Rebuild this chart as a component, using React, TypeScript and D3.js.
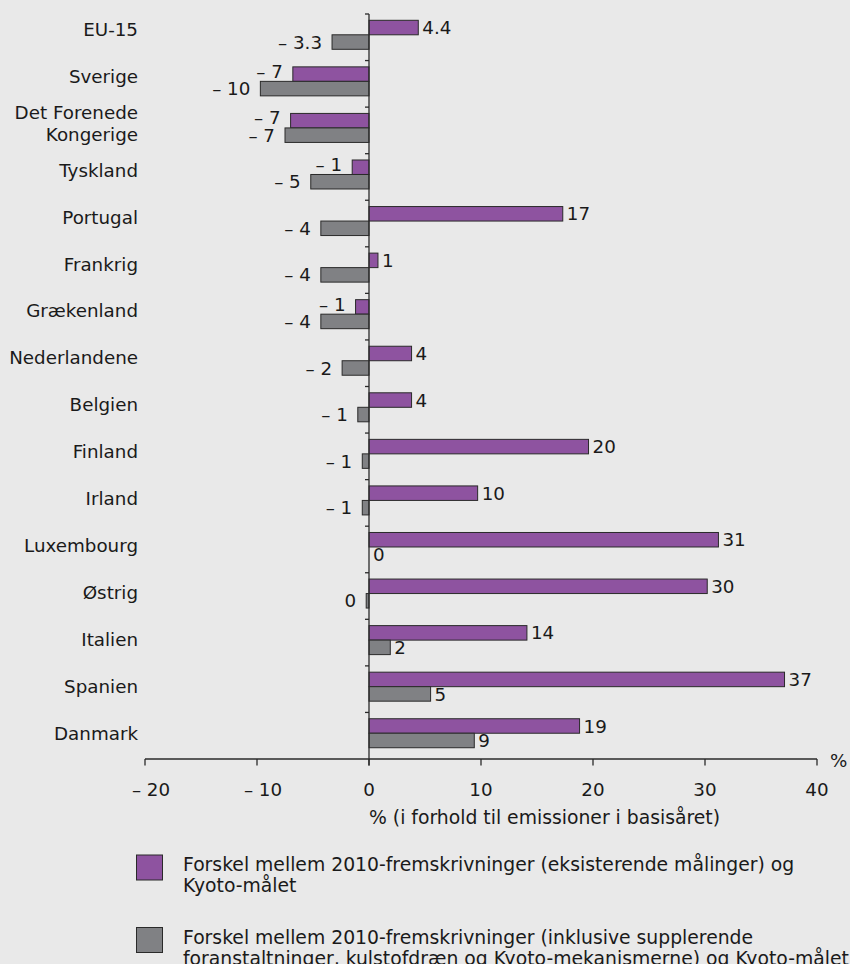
import React from "react";
import * as d3 from "d3";

const categories = [
  "EU-15",
  "Sverige",
  "Det Forenede Kongerige",
  "Tyskland",
  "Portugal",
  "Frankrig",
  "Grækenland",
  "Nederlandene",
  "Belgien",
  "Finland",
  "Irland",
  "Luxembourg",
  "Østrig",
  "Italien",
  "Spanien",
  "Danmark",
];
const categoryLines = [
  ["EU-15"],
  ["Sverige"],
  ["Det Forenede", "Kongerige"],
  ["Tyskland"],
  ["Portugal"],
  ["Frankrig"],
  ["Grækenland"],
  ["Nederlandene"],
  ["Belgien"],
  ["Finland"],
  ["Irland"],
  ["Luxembourg"],
  ["Østrig"],
  ["Italien"],
  ["Spanien"],
  ["Danmark"],
];

const existingValues = [4.4, -6.8, -7.0, -1.5, 17.3, 0.8, -1.2, 3.8, 3.8, 19.6, 9.7, 31.2, 30.2, 14.1, 37.1, 18.8];
const existingLabels = ["4.4", "– 7", "– 7", "– 1", "17", "1", "– 1", "4", "4", "20", "10", "31", "30", "14", "37", "19"];

const additionalValues = [-3.3, -9.7, -7.5, -5.2, -4.3, -4.3, -4.3, -2.4, -1.0, -0.6, -0.6, 0, -0.25, 1.9, 5.5, 9.4];
const additionalLabels = ["– 3.3", "– 10", "– 7", "– 5", "– 4", "– 4", "– 4", "– 2", "– 1", "– 1", "– 1", "0", "0", "2", "5", "9"];

const xTicks = [-20, -10, 0, 10, 20, 30, 40];
const xTickLabels = ["– 20", "– 10", "0", "10", "20", "30", "40"];
const xTitle = "% (i forhold til emissioner i basisåret)";
const unitLabel = "%";

const legendItems = [
  ["Forskel mellem 2010-fremskrivninger (eksisterende målinger) og", "Kyoto-målet"],
  [
    "Forskel mellem 2010-fremskrivninger (inklusive supplerende",
    "foranstaltninger, kulstofdræn og Kyoto-mekanismerne) og Kyoto-målet",
  ],
];

const W = 850;
const H = 964;
const FONT = "'DejaVu Sans', Verdana, sans-serif";
const BG = "#e9e9e9";
const PURPLE = "#8e53a0";
const GREY = "#808184";
const STROKE = "#2a2a2a";
const TEXT = "#1a1a1a";

export default function App() {
  const x = d3.scaleLinear().domain([-20, 40]).range([145, 817]);
  const y = d3.scaleBand<string>().domain(categories).range([14, 759]).paddingInner(0).paddingOuter(0);
  const yLabel = d3.scalePoint<string>().domain(categories).range([29.5, 733]);
  const barH = 14.5;
  const offTop = 6.3;
  const x0 = x(0);
  const axisY = 759;
  const fs = 18.3;
  const fsBig = 18.8;

  const bar = (v: number, yy: number, fill: string, key: string) => {
    const xa = x(Math.min(0, v));
    const xb = x(Math.max(0, v));
    return (
      <rect key={key} x={xa} y={yy} width={Math.max(xb - xa, 0)} height={barH} fill={fill} stroke={STROKE} strokeWidth={1} />
    );
  };

  const label = (v: number, txt: string, yy: number, key: string, raise: number) => {
    const neg = v < 0;
    return (
      <text
        key={key}
        x={neg ? x(v) - 10 : x(v) + 4}
        y={yy + barH / 2 - raise}
        dy="0.36em"
        textAnchor={neg ? "end" : "start"}
        fontSize={fs}
        fontFamily={FONT}
        fill={TEXT}
      >
        {txt}
      </text>
    );
  };

  return (
    <svg width={W} height={H} style={{ position: "absolute", left: 0, top: 0, display: "block" }}>
      <rect x={0} y={0} width={W} height={H} fill={BG} />

      {/* bars */}
      {categories.map((c, i) => {
        const r = y(c)!;
        const yp = r + offTop;
        const yg = r + offTop + barH;
        return (
          <g key={c}>
            {bar(existingValues[i], yp, PURPLE, "p")}
            {bar(additionalValues[i], yg, GREY, "g")}
            {label(existingValues[i], existingLabels[i], yp, "pl", existingValues[i] < 0 ? 3 : 0)}
            {label(additionalValues[i], additionalLabels[i], yg, "gl", 0)}
          </g>
        );
      })}

      {/* category labels */}
      {categories.map((c, i) => {
        const lines = categoryLines[i];
        const cy = yLabel(c)!;
        const lh = 22.5;
        return (
          <text key={c} x={138} textAnchor="end" fontSize={fs} fontFamily={FONT} fill={TEXT}>
            {lines.map((ln, j) => (
              <tspan key={j} x={138} y={cy + (j - (lines.length - 1) / 2) * lh} dy="0.36em">
                {ln}
              </tspan>
            ))}
          </text>
        );
      })}

      {/* y axis */}
      <line x1={x0} x2={x0} y1={14} y2={axisY + 6.5} stroke={STROKE} strokeWidth={1.3} />
      {categories.map((c) => (
        <line key={c} x1={x0 - 4} x2={x0} y1={y(c)!} y2={y(c)!} stroke={STROKE} strokeWidth={1.3} />
      ))}

      {/* x axis */}
      <line x1={x(-20)} x2={x(40)} y1={axisY} y2={axisY} stroke={STROKE} strokeWidth={1.3} />
      {xTicks.map((t, i) => (
        <g key={t}>
          <line x1={x(t)} x2={x(t)} y1={axisY} y2={axisY + 6.5} stroke={STROKE} strokeWidth={1.3} />
          <text
            x={x(t) + (t < 0 ? 6 : 0)}
            y={789}
            dy="0.36em"
            textAnchor="middle"
            fontSize={fs}
            fontFamily={FONT}
            fill={TEXT}
          >
            {xTickLabels[i]}
          </text>
        </g>
      ))}
      <text x={830} y={760} dy="0.36em" fontSize={fs} fontFamily={FONT} fill={TEXT}>
        {unitLabel}
      </text>
      <text x={x0} y={817} dy="0.36em" textAnchor="start" fontSize={fsBig} fontFamily={FONT} fill={TEXT}>
        {xTitle}
      </text>

      {/* legend */}
      {legendItems.map((lines, i) => {
        const top = 855 + i * 72.5;
        return (
          <g key={i}>
            <rect x={136.5} y={top} width={26} height={25} fill={i === 0 ? PURPLE : GREY} stroke={STROKE} strokeWidth={1} />
            {lines.map((ln, j) => (
              <text key={j} x={183} y={top + 16 + j * 21} fontSize={fsBig} fontFamily={FONT} fill={TEXT}>
                {ln}
              </text>
            ))}
          </g>
        );
      })}
    </svg>
  );
}
